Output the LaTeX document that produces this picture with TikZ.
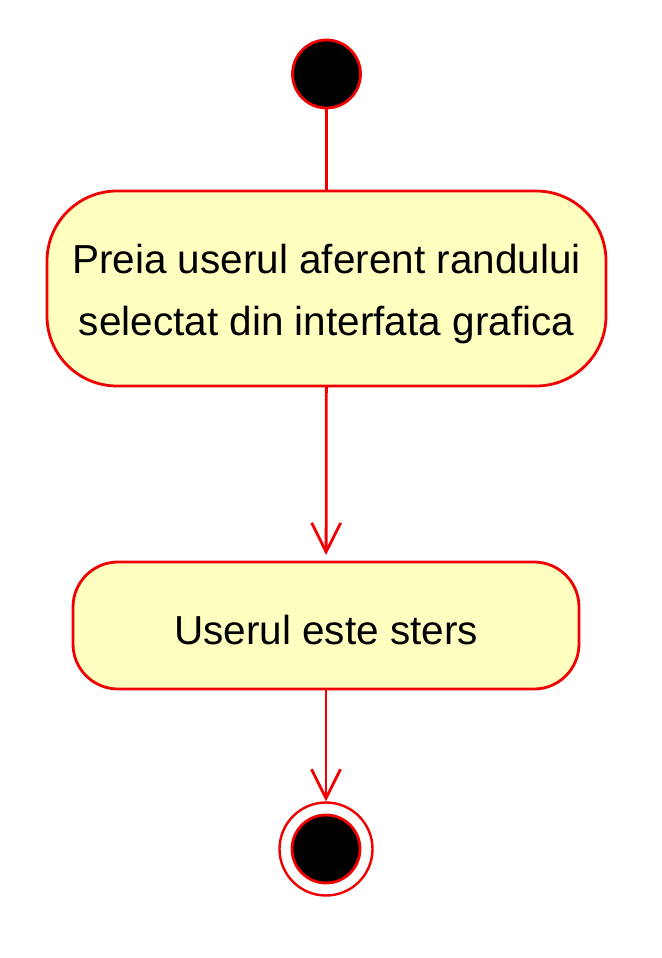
\documentclass[tikz,border=0pt]{standalone}
\usepackage{fontspec}
\setmainfont{Liberation Sans}
\usetikzlibrary{arrows.meta}
\definecolor{umlred}{RGB}{240,0,0}
\definecolor{umlfill}{RGB}{255,255,192}
\begin{document}
\begin{tikzpicture}[x=1pt,y=-1pt,
  act/.style={draw=umlred, line width=2.8pt, fill=umlfill, inner sep=0pt, outer sep=0pt},
  lbl/.style={font=\fontsize{40.5}{62}\selectfont, align=center},
  flow/.style={draw=umlred, line width=2.8pt},
  arr/.style={flow, -{Straight Barb[length=29pt,width=29pt,line width=2.8pt]}}]
\useasboundingbox (0,0) rectangle (661,958);
\node[circle, draw=umlred, line width=2.8pt, fill=black, minimum size=68pt, inner sep=0pt] (start) at (326.5,74) {};
\node[act, rounded corners=70pt, minimum width=559pt, minimum height=195pt] (a1) at (326.5,288.5) {};
\node[lbl] (t1) at (326.5,294) {Preia userul aferent randului\\selectat din interfata grafica};
\node[act, rounded corners=45pt, minimum width=506pt, minimum height=127pt] (a2) at (326,625.5) {};
\node[lbl] (t2) at (326,630) {Userul este sters};
\node[circle, draw=umlred, line width=2.4pt, fill=white, minimum size=93pt, inner sep=0pt] (endo) at (326,849) {};
\node[circle, draw=umlred, line width=2.8pt, fill=black, minimum size=68pt, inner sep=0pt] (endi) at (326,849) {};
\draw[flow] (start) -- (a1);
\draw[arr, shorten >=7pt] (a1) -- (a2);
\draw[arr] (a2) -- (endo);
\end{tikzpicture}
\end{document}
